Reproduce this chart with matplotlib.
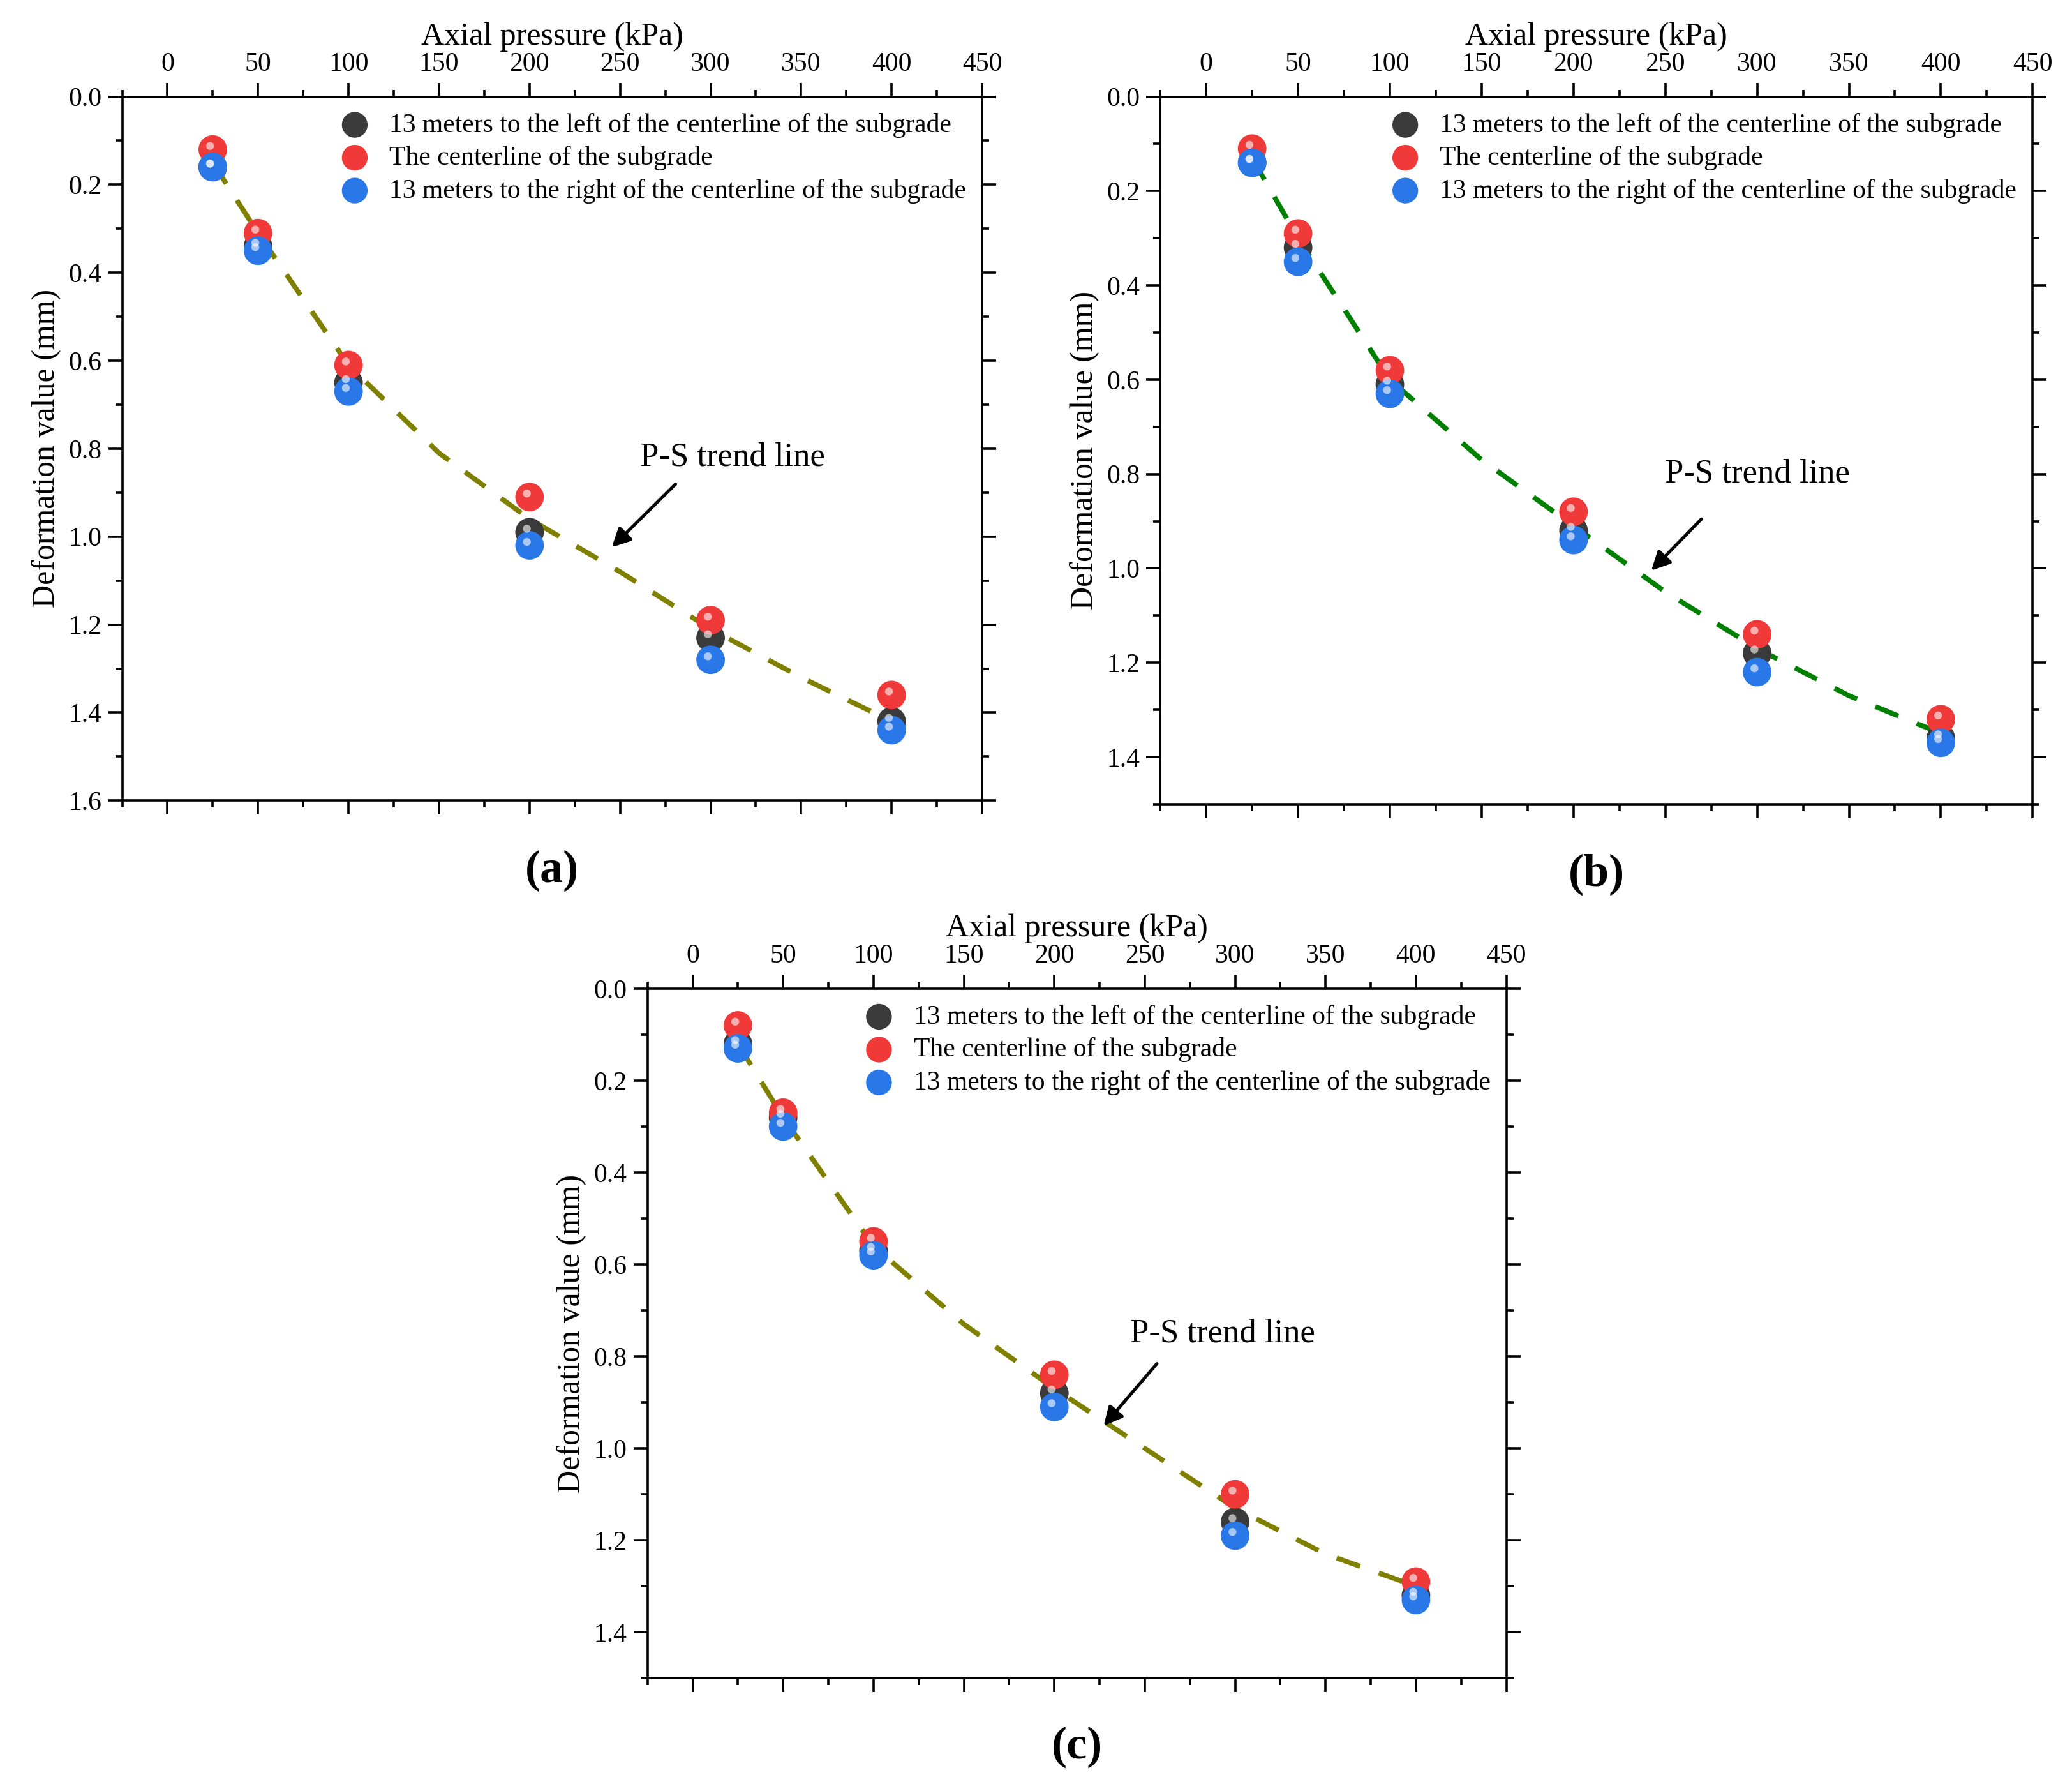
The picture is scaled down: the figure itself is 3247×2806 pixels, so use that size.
import matplotlib
matplotlib.use("Agg")
import matplotlib.pyplot as plt
from matplotlib.ticker import MultipleLocator

plt.rcParams["font.family"] = "serif"
plt.rcParams["font.serif"] = ["Liberation Serif", "DejaVu Serif"]
plt.rcParams["mathtext.fontset"] = "custom"

pressure = [25, 50, 100, 200, 300, 400]
trend_x = [25, 50, 100, 150, 200, 250, 300, 350, 400]

# panel (a)
a_left = [0.16, 0.34, 0.65, 0.99, 1.23, 1.42]
a_center = [0.12, 0.31, 0.61, 0.91, 1.19, 1.36]
a_right = [0.16, 0.35, 0.67, 1.02, 1.28, 1.44]
a_trend = [0.15, 0.31, 0.61, 0.81, 0.96, 1.08, 1.21, 1.32, 1.42]

# panel (b)
b_left = [0.14, 0.32, 0.61, 0.92, 1.18, 1.36]
b_center = [0.11, 0.29, 0.58, 0.88, 1.14, 1.32]
b_right = [0.14, 0.35, 0.63, 0.94, 1.22, 1.37]
b_trend = [0.13, 0.30, 0.60, 0.77, 0.91, 1.05, 1.17, 1.27, 1.35]

# panel (c)
c_left = [0.12, 0.28, 0.57, 0.88, 1.16, 1.32]
c_center = [0.08, 0.27, 0.55, 0.84, 1.10, 1.29]
c_right = [0.13, 0.30, 0.58, 0.91, 1.19, 1.33]
c_trend = [0.12, 0.28, 0.56, 0.73, 0.87, 1.00, 1.13, 1.23, 1.30]

labels = ["13 meters to the left of the centerline of the subgrade",
          "The centerline of the subgrade",
          "13 meters to the right of the centerline of the subgrade"]
colors = ["#3a3a3a", "#f03a3a", "#2a78e8"]

fig = plt.figure(figsize=(16.235, 14.03), dpi=200)

panels = [
    ([0.059, 0.553, 0.415, 0.393], a_left, a_center, a_right, a_trend, "#808000",
     1.6, "(a)", (312, 0.82), (282, 0.875), (244, 1.03)),
    ([0.560, 0.551, 0.421, 0.395], b_left, b_center, b_right, b_trend, "#008000",
     1.5, "(b)", (300, 0.80), (271, 0.89), (241, 1.01)),
    ([0.3125, 0.063, 0.4145, 0.385], c_left, c_center, c_right, c_trend, "#808000",
     1.5, "(c)", (293, 0.75), (258, 0.81), (226, 0.957)),
]

for rect, left, center, right, trend, tcol, ymax, tag, tpos, astart, aend in panels:
    ax = fig.add_axes(rect)
    ax.plot(trend_x, trend, ls=(0, (5, 4)), color=tcol, lw=2.8, zorder=2)
    for series, col, lab in zip([left, center, right], colors, labels):
        ax.scatter(pressure, series, s=260, color=col, label=lab, zorder=3,
                   edgecolors="none")
        ax.scatter([p - 1.5 for p in pressure], [v - 0.008 for v in series], s=20,
                   color="white", alpha=0.6, zorder=4, edgecolors="none")
    ax.set_xlim(-25, 450)
    ax.set_ylim(ymax, 0)
    ax.xaxis.set_major_locator(MultipleLocator(50))
    ax.xaxis.set_minor_locator(MultipleLocator(25))
    ax.yaxis.set_major_locator(MultipleLocator(0.2))
    ax.yaxis.set_minor_locator(MultipleLocator(0.1))
    ax.tick_params(which="both", top=True, bottom=True, left=True, right=True,
                   labeltop=True, labelbottom=False, direction="out",
                   labelsize=15, width=1.3)
    ax.tick_params(which="major", length=8)
    ax.tick_params(which="minor", length=4)
    for t in ax.get_xticklabels() + ax.get_yticklabels():
        t.set_fontfamily("Liberation Serif")
    ax.xaxis.set_label_position("top")
    ax.set_xlabel("Axial pressure (kPa)", fontsize=18, fontfamily="Liberation Serif")
    ax.set_ylabel("Deformation value (mm)", fontsize=18, fontfamily="Liberation Serif")
    for sp in ax.spines.values():
        sp.set_linewidth(1.3)
    ax.legend(loc="upper right", frameon=False, fontsize=15, handletextpad=0.3,
              labelspacing=0.3, borderaxespad=0.2, markerscale=0.9)
    ax.text(tpos[0], tpos[1], "P-S trend line", fontsize=19, ha="center",
            va="center")
    ax.annotate("", xy=aend, xytext=astart,
                arrowprops=dict(arrowstyle="-|>", color="black", lw=1.8,
                                mutation_scale=22))
    ax.text(0.5, -0.1, tag, transform=ax.transAxes, ha="center", va="center",
            fontsize=26, fontweight="bold")

fig.savefig("out.png", dpi=200)
